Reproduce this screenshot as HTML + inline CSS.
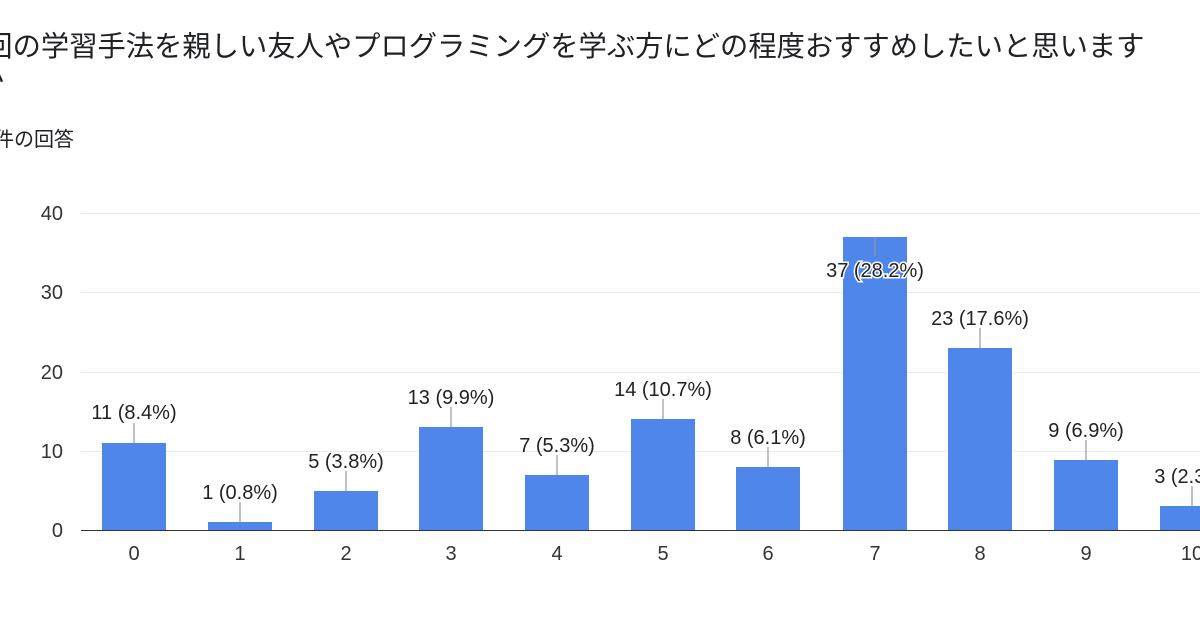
<!DOCTYPE html>
<html><head><meta charset="utf-8"><style>
html,body{margin:0;padding:0;background:#fff;overflow:hidden}
svg{display:block;font-family:"Liberation Sans","Noto Sans CJK JP",sans-serif}
</style></head><body>
<svg width="1200" height="630" xmlns="http://www.w3.org/2000/svg">
<text x="-44" y="56" font-size="28.3" fill="#202124">今回の学習手法を親しい友人やプログラミングを学ぶ方にどの程度おすすめしたいと思います</text>
<text x="-24" y="90" font-size="28" fill="#202124">か</text>
<text x="-6" y="146" font-size="20" fill="#202124">件の回答</text>
<g stroke="#ebebeb" stroke-width="1">
<line x1="81" y1="213.5" x2="1200" y2="213.5"/>
<line x1="81" y1="292.5" x2="1200" y2="292.5"/>
<line x1="81" y1="372.5" x2="1200" y2="372.5"/>
<line x1="81" y1="451.5" x2="1200" y2="451.5"/>
</g>
<line x1="81" y1="530.5" x2="1200" y2="530.5" stroke="#333" stroke-width="1"/>
<g font-size="20" fill="#333" text-anchor="end">
<text x="63" y="220">40</text><text x="63" y="299">30</text><text x="63" y="379">20</text><text x="63" y="458">10</text><text x="63" y="537">0</text>
</g>
<g font-size="20" fill="#333" text-anchor="middle">
<text x="134" y="560">0</text><text x="240" y="560">1</text><text x="346" y="560">2</text><text x="451" y="560">3</text><text x="557" y="560">4</text><text x="663" y="560">5</text><text x="768" y="560">6</text><text x="875" y="560">7</text><text x="980" y="560">8</text><text x="1086" y="560">9</text><text x="1192" y="560">10</text>
</g>
<g fill="#4e86ea">
<rect x="102" y="443" width="64" height="87"/>
<rect x="208" y="522" width="64" height="8"/>
<rect x="314" y="491" width="64" height="39"/>
<rect x="419" y="427" width="64" height="103"/>
<rect x="525" y="475" width="64" height="55"/>
<rect x="631" y="419" width="64" height="111"/>
<rect x="736" y="467" width="64" height="63"/>
<rect x="843" y="237" width="64" height="293"/>
<rect x="948" y="348" width="64" height="182"/>
<rect x="1054" y="460" width="64" height="70"/>
<rect x="1160" y="506" width="64" height="24"/>
</g>
<g stroke="#999" stroke-width="1.2">
<line x1="134" y1="423" x2="134" y2="443"/>
<line x1="240" y1="502" x2="240" y2="522"/>
<line x1="346" y1="471" x2="346" y2="491"/>
<line x1="451" y1="407" x2="451" y2="427"/>
<line x1="557" y1="455" x2="557" y2="475"/>
<line x1="663" y1="399" x2="663" y2="419"/>
<line x1="768" y1="447" x2="768" y2="467"/>
<line x1="875" y1="237" x2="875" y2="256"/>
<line x1="980" y1="328" x2="980" y2="348"/>
<line x1="1086" y1="440" x2="1086" y2="460"/>
<line x1="1192" y1="486" x2="1192" y2="506"/>
</g>
<g font-size="20" fill="#222" text-anchor="middle">
<text x="134" y="419">11 (8.4%)</text>
<text x="240" y="499">1 (0.8%)</text>
<text x="346" y="468">5 (3.8%)</text>
<text x="451" y="404">13 (9.9%)</text>
<text x="557" y="452">7 (5.3%)</text>
<text x="663" y="396">14 (10.7%)</text>
<text x="768" y="444">8 (6.1%)</text>
<text x="875" y="277" stroke="#fff" stroke-width="3" paint-order="stroke">37 (28.2%)</text>
<text x="980" y="325">23 (17.6%)</text>
<text x="1086" y="437">9 (6.9%)</text>
<text x="1192" y="483">3 (2.3%)</text>
</g>
</svg>
</body></html>
